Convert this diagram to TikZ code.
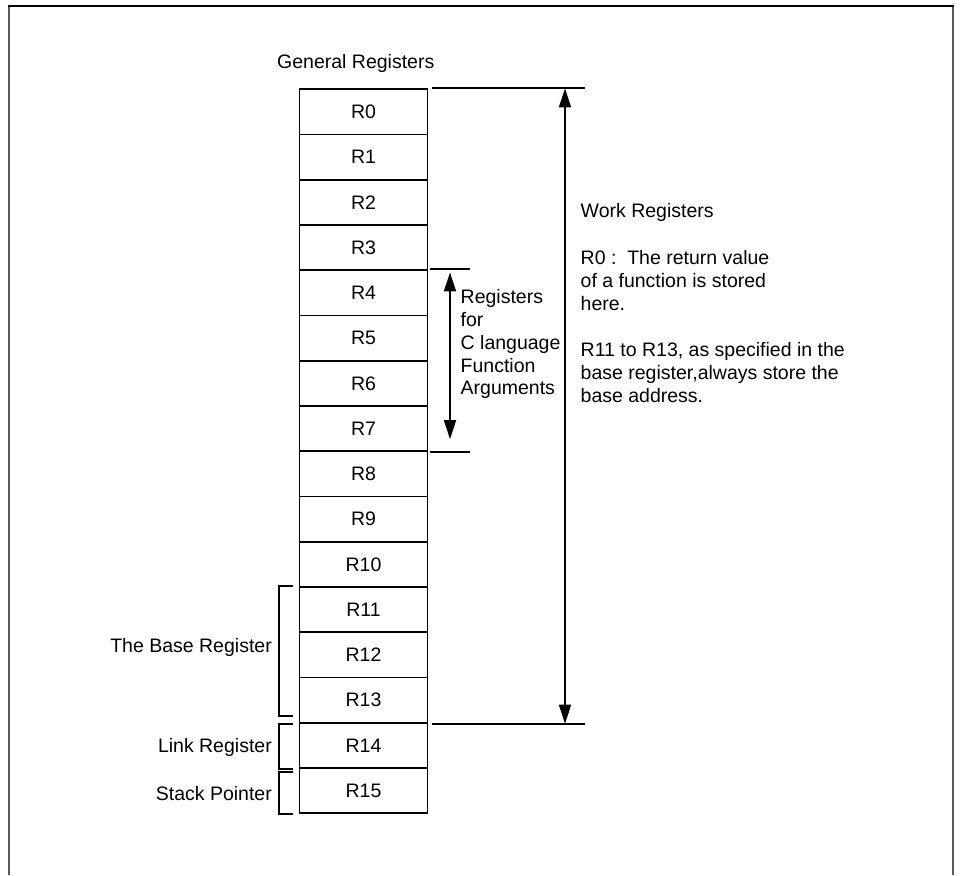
\documentclass[tikz,border=0pt]{standalone}
\usepackage{fontspec}
\setmainfont{Liberation Sans}
\usetikzlibrary{arrows.meta,positioning}

\begin{document}
\begin{tikzpicture}[
    x=1pt, y=-1pt,
    txt/.style={inner sep=0pt, font=\fontsize{19.5}{22.9}\selectfont},
    reg/.style={txt, draw, line width=1.8pt, minimum width=128pt, minimum height=45.25pt},
    rule/.style={line width=1.8pt},
    >={Triangle[length=19pt,width=12pt]}
  ]
  \useasboundingbox (0,0) rectangle (960,875);
  % frame, open at the bottom
  \draw[line width=2pt, black!65] (9,875) -- (9,6);
  \draw[line width=2pt, black!65] (953,6) -- (953,875);
  \draw[line width=1.6pt] (8,6) -- (954,6);

  % register column
  \node[txt, anchor=base west] (title) at (277,68) {General Registers};
  \foreach \i in {0,...,15}
    \node[reg] (r\i) at (363.5,{111.9+45.25*\i}) {R\i};

  % work registers
  \coordinate (wtop) at (565,0 |- r0.north);
  \coordinate (wbot) at (565,0 |- r13.south);
  \draw[rule] ([xshift=4pt]r0.north east) -- ([xshift=20pt]wtop);
  \draw[rule] ([xshift=4pt]r13.south east) -- ([xshift=20pt]wbot);
  \draw[rule,<->] (wtop) -- (wbot);
  \node[txt, anchor=base west] (wtitle) at (580.5,217) {Work Registers};
  \node[txt, anchor=north west, align=left] (wnote0) at (580.5,250.5)
    {R0 :\ \ The return value\\of a function is stored\\here.};
  \node[txt, anchor=north west, align=left] (wnote1) at (580.5,342)
    {R11 to R13, as specified in the\\base register,always store the\\base address.};

  % C function arguments
  \coordinate (atop) at (450,0 |- r4.north);
  \coordinate (abot) at (450,0 |- r7.south);
  \draw[rule] ([xshift=2pt]r4.north east) -- ([xshift=20pt]atop);
  \draw[rule] ([xshift=2pt]r7.south east) -- ([xshift=20pt]abot);
  \draw[rule,<->] ([yshift=-3pt]atop) -- ([yshift=13pt]abot);
  \node[txt, anchor=north west, align=left] (args) at (460.5,289)
    {Registers\\for\\C language\\Function\\Arguments};

  % brackets on the left
  \draw[rule] ([xshift=-6pt]r11.north west) -- ++(-14,0) |- ([xshift=-6pt,yshift=8pt]r13.south west);
  \draw[rule] ([xshift=-6pt,yshift=-2pt]r14.north west) -- ++(-14,0) |- ([xshift=-6pt]r14.south west);
  \draw[rule] ([xshift=-6pt,yshift=-5pt]r15.north west) -- ++(-14,0) |- ([xshift=-6pt]r15.south west);
  \node[txt, anchor=base east] (basel) at (272,652) {The Base Register};
  \node[txt, anchor=base east] (linkl) at (272,752) {Link Register};
  \node[txt, anchor=base east] (stackl) at (272,800) {Stack Pointer};
\end{tikzpicture}
\end{document}
